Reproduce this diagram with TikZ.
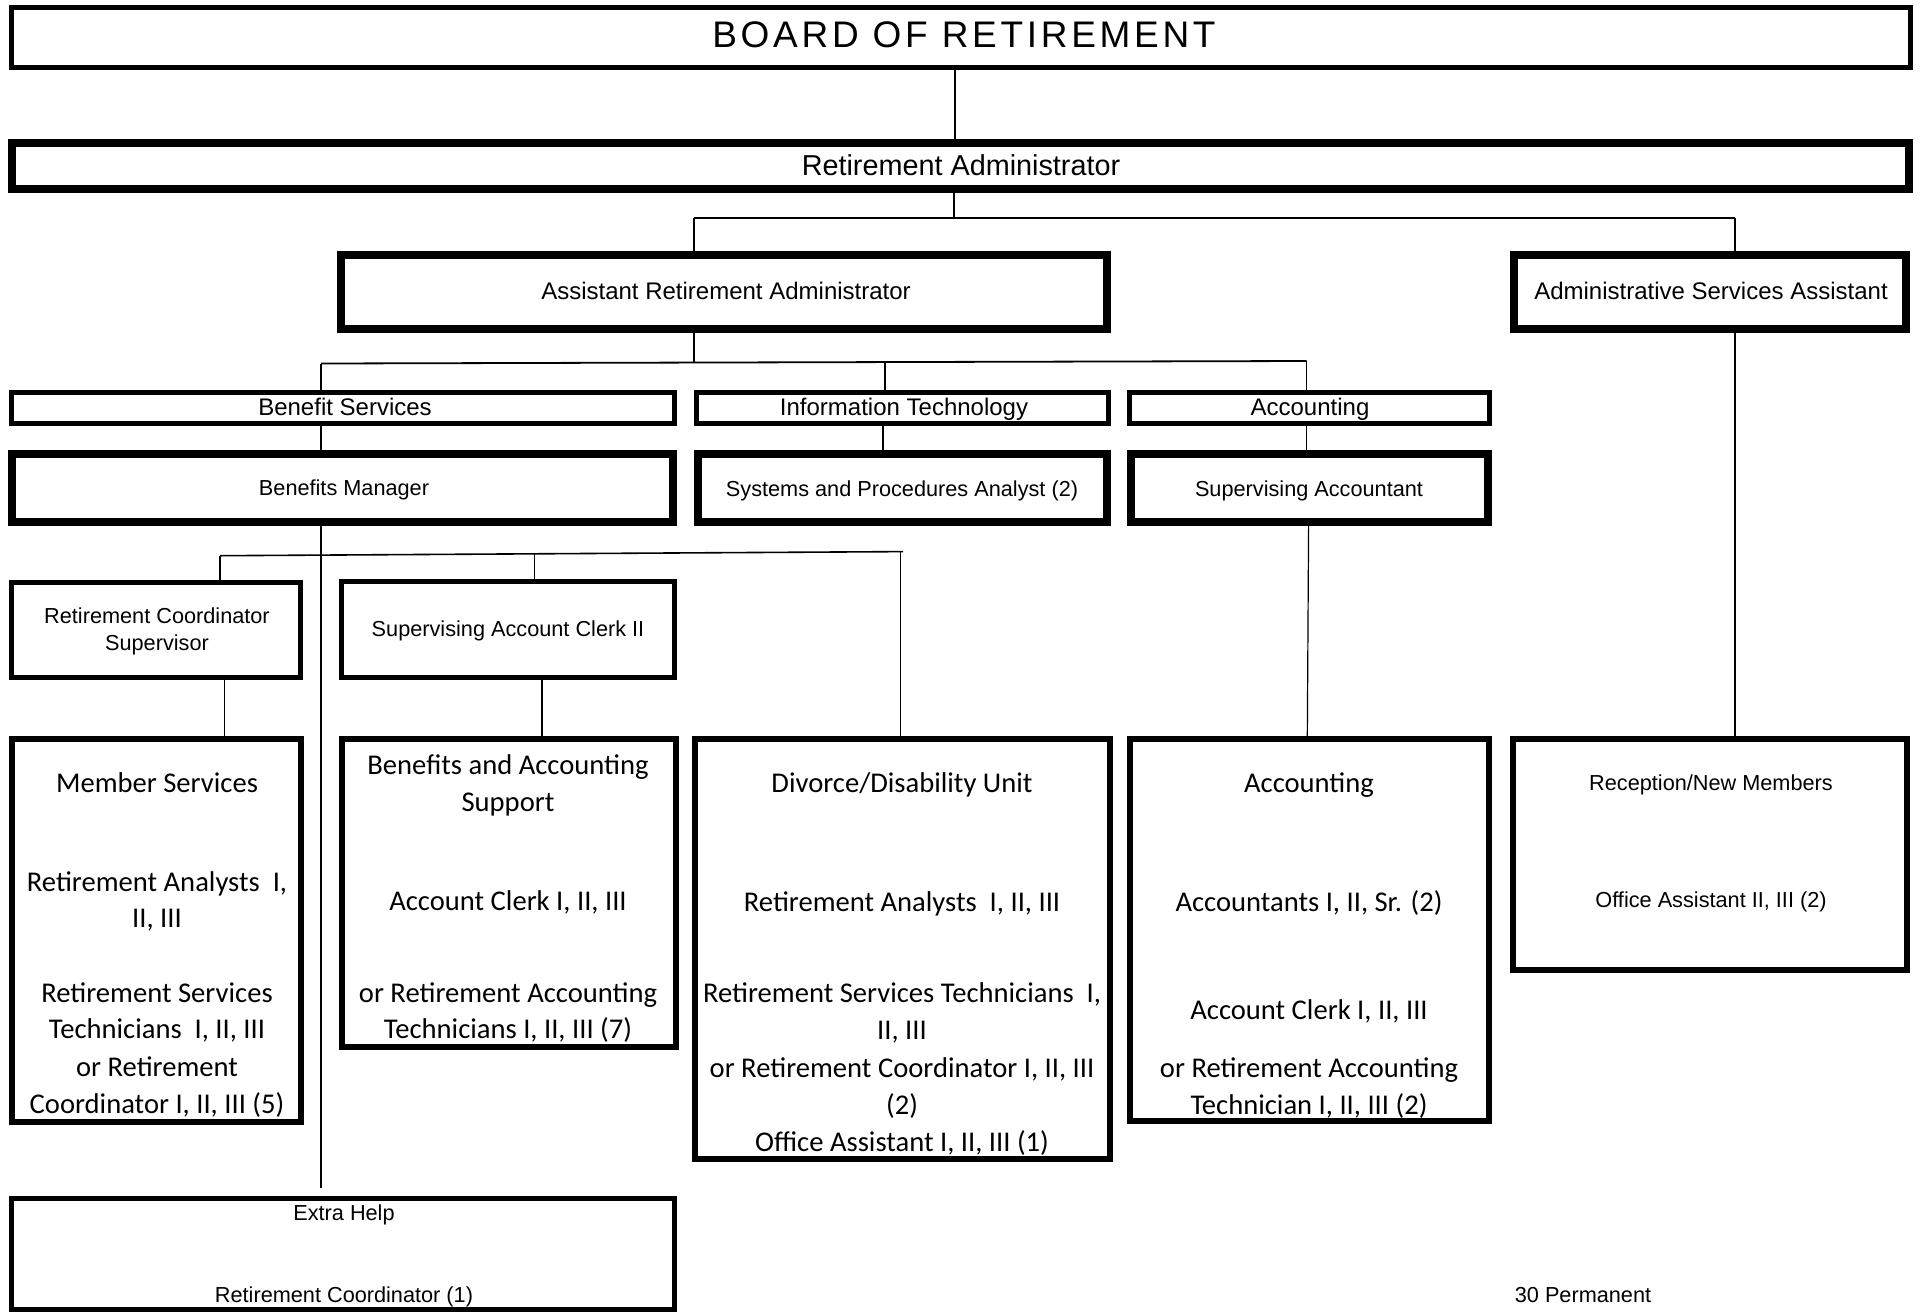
\documentclass[tikz,border=0pt]{standalone}
\usepackage{fontspec}
\newfontfamily\arialf{Liberation Sans}
\newfontfamily\calf{Carlito}
\newfontfamily\boardf[LetterSpace=10]{Liberation Sans}
\usetikzlibrary{fit}
\tikzset{
 thinbox/.style={draw, line width=2.5pt, inner sep=0pt},
 midbox/.style={draw, line width=3pt, inner sep=0pt},
 boldbox/.style={draw, line width=4pt, inner sep=0pt},
 conn/.style={line width=0.6pt},
 lbl/.style={font=\arialf\fontsize{10.85pt}{13pt}\selectfont, inner sep=0pt, text height=7.77pt, text depth=0pt},
 hdr/.style={font=\arialf\fontsize{12pt}{14pt}\selectfont, inner sep=0pt, text height=8.6pt, text depth=0pt},
 big/.style={font=\arialf\fontsize{14.4pt}{16pt}\selectfont, inner sep=0pt, text height=10.3pt, text depth=0pt},
 cal/.style={font=\calf\fontsize{14.3pt}{18pt}\selectfont, inner sep=0pt, text height=9.2pt, text depth=0pt},
}
\begin{document}
\begin{tikzpicture}[x=0.5pt,y=-0.5pt]
\useasboundingbox (0,0) rectangle (1920,1312);
% ---- boxes
\node[thinbox, fit={(11.5,7.5) (1910.5,67.5)}] (board) {};
\node[boldbox, fit={(12,143) (1909,189)}] (ra) {};
\node[boldbox, fit={(341,255) (1107,329)}] (ara) {};
\node[boldbox, fit={(1514,255) (1906,329)}] (asa) {};
\node[thinbox, fit={(11.5,392.5) (674.5,423.5)}] (bs) {};
\node[thinbox, fit={(696.5,392.5) (1108.5,423.5)}] (it) {};
\node[thinbox, fit={(1129,392.5) (1489,423.5)}] (acch) {};
\node[boldbox, fit={(12,454) (673,522)}] (bm) {};
\node[boldbox, fit={(698,454) (1107,522)}] (spa) {};
\node[boldbox, fit={(1130.5,454) (1487.5,522)}] (sa) {};
\node[thinbox, fit={(11.5,582.5) (300.5,677.5)}] (rcs) {};
\node[thinbox, fit={(341.5,581.5) (674.5,677.5)}] (sac) {};
\node[midbox, fit={(12,739) (300.5,1122)}] (ms) {};
\node[midbox, fit={(342,739) (675.5,1047)}] (bas) {};
\node[midbox, fit={(695,739) (1110,1159)}] (ddu) {};
\node[midbox, fit={(1129.5,739) (1489,1121)}] (acc) {};
\node[midbox, fit={(1513,739) (1907,970)}] (rnm) {};
\node[thinbox, fit={(11.5,1198.5) (674.5,1309.5)}] (eh) {};
% ---- texts
\node[font=\boardf\fontsize{18.5pt}{20pt}\selectfont, inner sep=0pt, text height=13.2pt, text depth=0pt] (tboard) at (964,34) {BOARD OF RETIREMENT};
\node[big] (tra) at (961,165) {Retirement Administrator};
\node[hdr] (tara) at (726,291) {Assistant Retirement Administrator};
\node[hdr] (tasa) at (1711,291) {Administrative Services Assistant};
\node[hdr] (tbs) at (345,407) {Benefit Services};
\node[hdr] (tit) at (904,407) {Information Technology};
\node[hdr] (tacch) at (1310,407) {Accounting};
\node[lbl] (tbm) at (344,488) {Benefits Manager};
\node[lbl] (tspa) at (902,488.5) {Systems and Procedures Analyst (2)};
\node[lbl] (tsa) at (1309,488.5) {Supervising Accountant};
\node[lbl] (trcs1) at (157,616) {Retirement Coordinator};
\node[lbl] (trcs2) at (157,643) {Supervisor};
\node[lbl] (tsac) at (508,629) {Supervising Account Clerk II};
% Member services
\node[cal] (tms1) at (157,783) {Member Services};
\node[cal] (tms2) at (157,882) {Retirement Analysts\ \ I,};
\node[cal] (tms3) at (157,918) {II, III};
\node[cal] (tms4) at (157,993) {Retirement Services};
\node[cal] (tms5) at (157,1029) {Technicians\ \ I, II, III};
\node[cal] (tms6) at (157,1067) {or Retirement};
\node[cal] (tms7) at (157,1104) {Coordinator I, II, III (5)};
% Benefits and accounting support
\node[cal] (tbas1) at (508,765) {Benefits and Accounting};
\node[cal] (tbas2) at (508,802) {Support};
\node[cal] (tbas3) at (508,901) {Account Clerk I, II, III};
\node[cal] (tbas4) at (508,993) {or Retirement Accounting};
\node[cal] (tbas5) at (508,1029) {Technicians I, II, III (7)};
% Divorce / disability
\node[cal] (tddu1) at (902,783) {Divorce/Disability Unit};
\node[cal] (tddu2) at (902,902) {Retirement Analysts\ \ I, II, III};
\node[cal] (tddu3) at (902,993) {Retirement Services Technicians\ \ I,};
\node[cal] (tddu4) at (902,1030) {II, III};
\node[cal] (tddu5) at (902,1068) {or Retirement Coordinator I, II, III};
\node[cal] (tddu6) at (902,1105) {(2)};
\node[cal] (tddu7) at (902,1142) {Office Assistant I, II, III (1)};
% Accounting
\node[cal] (tacc1) at (1309,783) {Accounting};
\node[cal] (tacc2) at (1309,902) {Accountants I, II, Sr. (2)};
\node[cal] (tacc3) at (1309,1010) {Account Clerk I, II, III};
\node[cal] (tacc4) at (1309,1068) {or Retirement Accounting};
\node[cal] (tacc5) at (1309,1105) {Technician I, II, III (2)};
% Reception
\node[lbl] (trnm1) at (1711,783) {Reception/New Members};
\node[lbl] (trnm2) at (1711,900) {Office Assistant II, III (2)};
% Extra help
\node[lbl] (teh1) at (344,1213) {Extra Help};
\node[lbl] (teh2) at (344,1295) {Retirement Coordinator (1)};
\node[lbl] (tperm) at (1583,1295) {30 Permanent};
% ---- connector coordinates
\coordinate (xbr) at (955,0);
\coordinate (b1M) at (954,218);
\coordinate (b1L) at (694,218);
\coordinate (b1R) at (1735,218);
\coordinate (b2M) at (694,362.5);
\coordinate (b2L) at (321,363.5);
\coordinate (b2I) at (885,362);
\coordinate (b2R) at (1306.6,361);
\coordinate (xit) at (883,0);
\coordinate (ehend) at (321,1188);
\coordinate (b3L) at (220,555.7);
\coordinate (b3S) at (534.5,553.8);
\coordinate (b3D) at (900.5,551.7);
\coordinate (b3R) at (903,551.6);
\coordinate (xms) at (224.5,0);
\coordinate (xbas) at (542,0);
\coordinate (xsa) at (1308.6,0);
\coordinate (xac) at (1307.3,0);
% ---- connectors
\draw[conn] (board.south -| xbr) -- (ra.north -| xbr);
\draw[conn] (ra.south -| b1M) -- (b1M);
\draw[line width=0.9pt] (b1L) -- (b1R);
\draw[conn] (b1L) -- (ara.north -| b1L);
\draw[conn] (b1R) -- (asa.north -| b1R);
\draw[conn] (ara.south -| b2M) -- (b2M);
\draw[line width=0.9pt] (b2L) -- (b2R);
\draw[conn] (b2L) -- (bs.north -| b2L);
\draw[conn] (b2I) -- (it.north -| b2I);
\draw[conn] (b2R) -- (acch.north -| b2R);
\draw[conn] (bs.south -| b2L) -- (bm.north -| b2L);
\draw[conn] (it.south -| xit) -- (spa.north -| xit);
\draw[conn] (acch.south -| b2R) -- (sa.north -| b2R);
\draw[conn] (bm.south -| ehend) -- (ehend);
\draw[line width=0.8pt] (b3L) -- (b3R);
\draw[conn] (b3L) -- (rcs.north -| b3L);
\draw[conn] (b3S) -- (sac.north -| b3S);
\draw[conn] (b3D) -- (ddu.north -| b3D);
\draw[conn] (rcs.south -| xms) -- (ms.north -| xms);
\draw[conn] (sac.south -| xbas) -- (bas.north -| xbas);
\draw[conn] (sa.south -| xsa) -- (acc.north -| xac);
\draw[conn] (asa.south -| b1R) -- (rnm.north -| b1R);
\end{tikzpicture}
\end{document}
